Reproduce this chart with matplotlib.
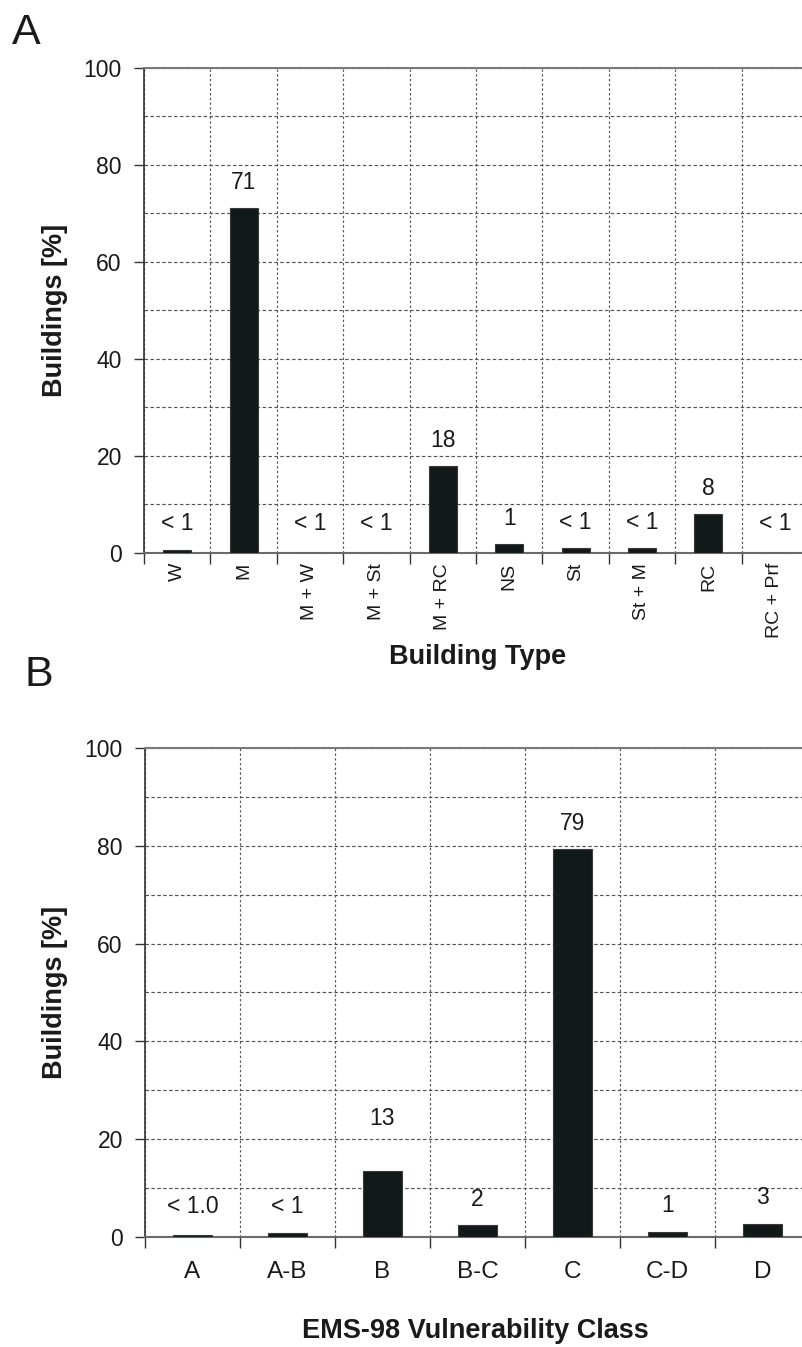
import matplotlib
matplotlib.use("Agg")
import matplotlib.pyplot as plt
from matplotlib.ticker import MultipleLocator, FixedLocator, NullFormatter

plt.rcParams['font.family'] = ['Liberation Sans', 'DejaVu Sans']

# panel A - building types
types = ["W", "M", "M + W", "M + St", "M + RC", "NS", "St", "St + M", "RC", "RC + Prf"]
types_pct = [0.5, 71.0, 0.0, 0.0, 17.8, 1.7, 0.9, 0.9, 8.0, 0.0]
types_lbl = ["< 1", "71", "< 1", "< 1", "18", "1", "< 1", "< 1", "8", "< 1"]

# panel B - EMS-98 vulnerability classes
classes = ["A", "A-B", "B", "B-C", "C", "C-D", "D"]
classes_pct = [0.35, 0.8, 13.5, 2.3, 79.3, 1.0, 2.6]
classes_lbl = ["< 1.0", "< 1", "13", "2", "79", "1", "3"]

W, H = 803, 1347
fig = plt.figure(figsize=(W / 100, H / 100), dpi=100)

txt = "#1a1a1a"
barc = "#121a19"
gridc = "#555555"


def px(x0, y0, x1, y1):
    # pixel box (top-left origin) -> figure fraction rect
    return [x0 / W, 1 - y1 / H, (x1 - x0) / W, (y1 - y0) / H]


def panel(ax, cats, vals, lbls, rot, xpad, xsize, lift):
    n = len(cats)
    xs = list(range(n))
    ax.bar(xs, vals, width=0.42, color=barc, edgecolor="#3a3a3a", linewidth=0.8, zorder=3)
    ax.set_xlim(-0.5, n - 0.5)
    ax.set_ylim(0, 100)

    ax.yaxis.set_major_locator(MultipleLocator(20))
    ax.yaxis.set_minor_locator(MultipleLocator(10))
    ax.xaxis.set_major_locator(FixedLocator(xs))
    ax.xaxis.set_minor_locator(FixedLocator([i - 0.5 for i in range(n + 1)]))
    ax.xaxis.set_minor_formatter(NullFormatter())
    ax.set_xticklabels(cats, rotation=rot, va="top", ha="center", fontsize=xsize, color=txt)

    ax.tick_params(axis="x", which="major", length=0, pad=xpad)
    ax.tick_params(axis="x", which="minor", length=8, width=1, color="#333333", direction="out")
    ax.tick_params(axis="y", which="major", length=7, width=1, color="#333333",
                   labelsize=16.5, labelcolor=txt, pad=9)
    ax.tick_params(axis="y", which="minor", length=0)

    ax.grid(True, axis="y", which="both", linestyle=(0, (3, 2)), linewidth=0.85, color=gridc, zorder=0)
    ax.grid(True, axis="x", which="minor", linestyle=(0, (2, 2)), linewidth=0.85, color=gridc, zorder=0)
    ax.grid(False, axis="x", which="major")
    ax.set_axisbelow(True)

    ax.spines["right"].set_visible(False)
    ax.spines["top"].set_color("#7a7a7a")
    ax.spines["top"].set_linewidth(1.5)
    ax.spines["bottom"].set_color("#6a6a6a")
    ax.spines["bottom"].set_linewidth(1.5)
    ax.spines["left"].set_color("#333333")
    ax.spines["left"].set_linewidth(1.2)

    for x, v, s in zip(xs, vals, lbls):
        y = max(v + 5.3, 6.1) + lift.get(s, 0)
        ax.text(x, y, s, ha="center", va="center", fontsize=16.5, color=txt, zorder=4)


axA = fig.add_axes(px(144, 67.7, 808, 552.7))
panel(axA, types, types_pct, types_lbl, 90, 7.5, 14, {})

axB = fig.add_axes(px(145, 748.3, 810, 1236.5))
panel(axB, classes, classes_pct, classes_lbl, 0, 18, 17.5, {"13": 5.3})

# axis titles
fig.text(55 / W, 1 - 310 / H, "Buildings [%]", rotation=90, ha="center", va="center",
         fontsize=19.5, fontweight="bold", color=txt)
fig.text(55 / W, 1 - 992 / H, "Buildings [%]", rotation=90, ha="center", va="center",
         fontsize=19.5, fontweight="bold", color=txt)
fig.text(478 / W, 1 - 657 / H, "Building Type", ha="center", va="center",
         fontsize=19.5, fontweight="bold", color=txt)
fig.text(475 / W, 1 - 1331 / H, "EMS-98 Vulnerability Class", ha="center", va="center",
         fontsize=19.5, fontweight="bold", color=txt)

# panel letters
fig.text(26 / W, 1 - 33 / H, "A", ha="center", va="center", fontsize=31, color=txt)
fig.text(39 / W, 1 - 675 / H, "B", ha="center", va="center", fontsize=31, color=txt)

fig.savefig("out.png", dpi=100, facecolor="white")
